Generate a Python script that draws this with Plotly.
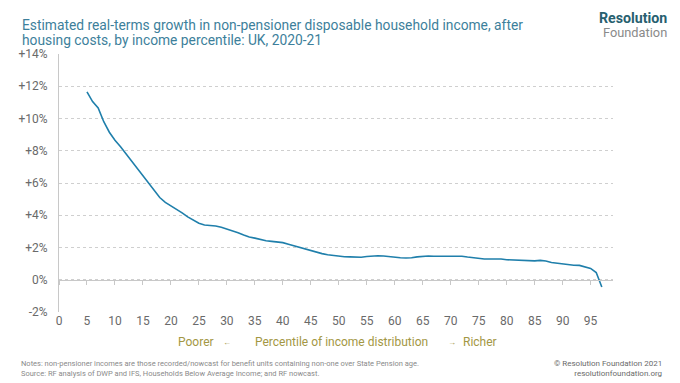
import plotly.graph_objects as go

# ---- data ----
percentiles = list(range(5, 98))
growth = [
    11.65, 11.05, 10.65, 9.80, 9.15, 8.65, 8.25, 7.80, 7.35, 6.90,   # 5-14
    6.50, 6.00, 5.55, 5.10, 4.80, 4.60, 4.40, 4.15, 3.90, 3.68,      # 15-24
    3.50, 3.40, 3.37, 3.33, 3.25, 3.15, 3.05, 2.92, 2.78, 2.65,      # 25-34
    2.58, 2.48, 2.42, 2.38, 2.34, 2.30, 2.20, 2.10, 2.00, 1.90,      # 35-44
    1.80, 1.72, 1.62, 1.55, 1.50, 1.46, 1.43, 1.42, 1.41, 1.40,      # 45-54
    1.44, 1.47, 1.49, 1.47, 1.42, 1.38, 1.36, 1.35, 1.36, 1.42,      # 55-64
    1.46, 1.47, 1.46, 1.46, 1.48, 1.49, 1.49, 1.46, 1.41, 1.36,      # 65-74
    1.32, 1.29, 1.29, 1.31, 1.29, 1.24, 1.22, 1.21, 1.18, 1.15,      # 75-84
    1.17, 1.20, 1.16, 1.07, 1.03, 0.98, 0.92, 0.90, 0.89, 0.80,      # 85-94
    0.70, 0.45, -0.45,                                               # 95-97
]
x_ticks = list(range(0, 100, 5))
y_ticks = list(range(-2, 15, 2))
y_tick_labels = [("+" if v > 0 else "") + f"{v}%" for v in y_ticks]

title_line1 = "Estimated real-terms growth in non-pensioner disposable household income, after"
title_line2 = "housing costs, by income percentile: UK, 2020-21"
notes = ("Notes: non-pensioner incomes are those recorded/nowcast for benefit units containing non-one over State Pension age.<br>"
         "Source: RF analysis of DWP and IFS, Households Below Average Income; and RF nowcast.")
credit = "© Resolution Foundation 2021<br>resolutionfoundation.org"

FONT = "Roboto"
OFF = 8                      # page body margin
W, H = 680 - OFF, 383 - OFF
# plot area in screen pixels
SX0, SX1, SY0, SY1 = 59, 613, 54, 312
L, R, T, B = SX0 - OFF, W - (SX1 - OFF), SY0 - OFF, H - (SY1 - OFF)
PW, PH = W - L - R, H - T - B


def px(x):
    return (x - SX0) / PW


def py(y):
    return (SY1 - y) / PH


fig = go.Figure()
fig.add_trace(go.Scatter(
    x=percentiles, y=growth, mode="lines",
    line=dict(color="#1f7fab", width=1.6),
    showlegend=False, hoverinfo="x+y",
))
# invisible companion trace so the zero-line tick axis is drawn
fig.add_trace(go.Scatter(
    x=percentiles, y=growth, mode="lines", xaxis="x2",
    line=dict(width=0), opacity=0, showlegend=False, hoverinfo="skip",
))

fig.update_layout(
    width=W, height=H,
    margin=dict(l=L, r=R, t=T, b=B),
    paper_bgcolor="white", plot_bgcolor="white",
    font=dict(family=FONT, color="#666666", size=12),
    xaxis=dict(
        range=[0, 99], tickmode="array", tickvals=x_ticks,
        showgrid=False, zeroline=False, showline=False, ticks="",
        tickfont=dict(size=12, color="#6a6a6a"),
    ),
    xaxis2=dict(
        overlaying="x", matches="x", anchor="free", position=2 / 16,
        range=[0, 99], tickmode="array", tickvals=x_ticks,
        showticklabels=False, showgrid=False, zeroline=False,
        showline=True, linecolor="#c8c8c8", linewidth=1,
        ticks="outside", ticklen=4, tickcolor="#c8c8c8", tickwidth=1,
    ),
    yaxis=dict(
        range=[-2, 14], tickmode="array", tickvals=y_ticks, ticktext=y_tick_labels,
        showgrid=True, gridcolor="#cfcfcf", griddash="dot", gridwidth=1,
        zeroline=False, showline=True, linecolor="#c8c8c8", linewidth=1,
        ticks="", ticklabelstandoff=8,
        tickfont=dict(size=12, color="#6a6a6a"),
    ),
)


def ann(text, sx, sy, xanchor="left", size=12, color="#666666", align="left", bold=False):
    return dict(text=f"<b>{text}</b>" if bold else text,
                x=px(sx), y=py(sy), xref="paper", yref="paper",
                xanchor=xanchor, yanchor="middle", align=align, showarrow=False,
                borderpad=0,
                font=dict(family=FONT, size=size, color=color))


GOLD = "#a39744"
annotations = [
    ann(title_line1, 21, 25, size=13.8, color="#3d7f9b"),
    ann(title_line2, 21, 40, size=13.8, color="#3d7f9b"),
    ann("Poorer", 177, 342, size=12, color=GOLD),
    ann("←", 222, 342, size=8, color=GOLD),
    ann("Percentile of income distribution", 254, 342, size=12, color=GOLD),
    ann("→", 447, 342, size=8, color=GOLD),
    ann("Richer", 462, 342, size=12, color=GOLD),
    ann("Resolution", 668, 18.5, xanchor="right", size=14.2, color="#27606f", bold=True),
    ann("Foundation", 668, 32.5, xanchor="right", size=12.8, color="#8a8a8a"),
    ann(notes, 20, 368, size=7.5, color="#8a8a8a"),
    ann(credit, 663, 368, xanchor="right", size=8, color="#6a6a6a", align="right"),
]
fig.update_layout(annotations=annotations)

fig.write_html("out.html")
